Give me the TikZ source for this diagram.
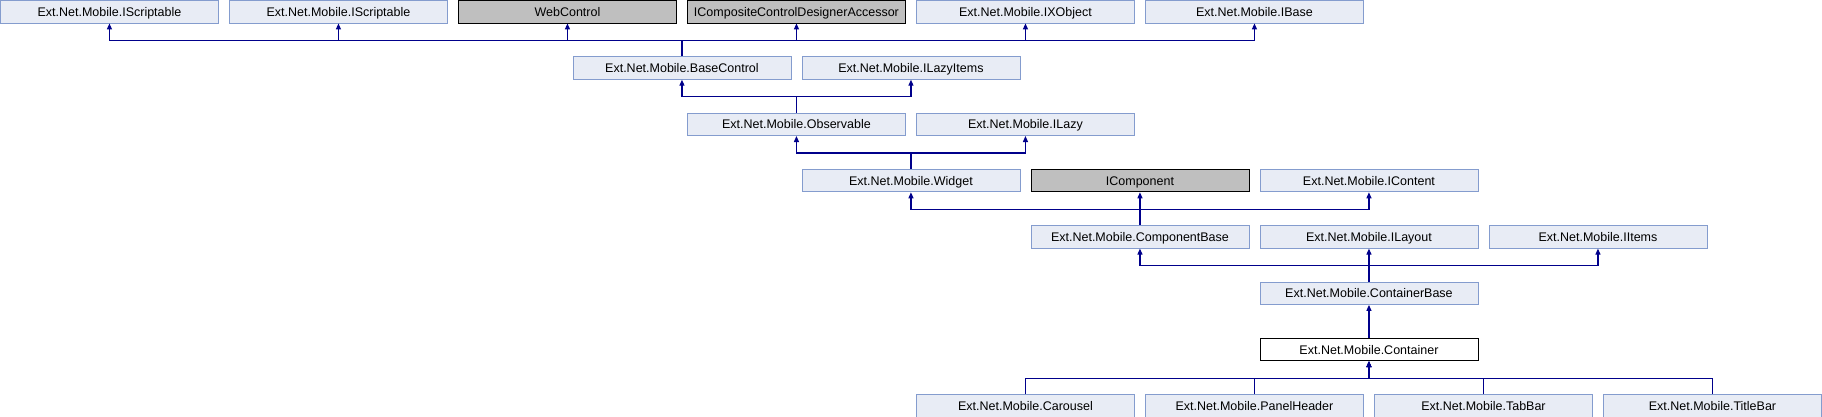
\documentclass[tikz,border=0pt]{standalone}
\usepackage{fontspec}
\setmainfont{Liberation Sans}
\usetikzlibrary{arrows.meta}
\definecolor{boxfill}{RGB}{232,236,245}
\definecolor{boxline}{RGB}{132,156,206}
\definecolor{extfill}{RGB}{191,191,191}
\definecolor{inhline}{RGB}{0,0,139}
\begin{document}
\begin{tikzpicture}[x=114.5pt,y=-56.3pt,>={Triangle[width=5pt,length=6pt]},
	box/.style={draw,line width=0.9pt,anchor=north west,minimum width=218pt,minimum height=22.5pt,inner sep=0pt,text height=9pt,text depth=0pt,font=\fontsize{12.5}{15}\selectfont},
	cls/.style={box,draw=boxline,fill=boxfill},
	ext/.style={box,draw=black,fill=extfill},
	cur/.style={box,draw=black,fill=white},
	inh/.style={draw=inhline,line width=1.2pt}]
	\useasboundingbox (0,0) rectangle (1822pt,-416pt);
	% row 0
	\node[cls] (iscr1) at (0,0) {Ext.Net.Mobile.IScriptable};
	\node[cls] (iscr2) at (2,0) {Ext.Net.Mobile.IScriptable};
	\node[ext] (webctl) at (4,0) {WebControl};
	\node[ext] (iccda) at (6,0) {ICompositeControlDesignerAccessor};
	\node[cls] (ixobj) at (8,0) {Ext.Net.Mobile.IXObject};
	\node[cls] (ibase) at (10,0) {Ext.Net.Mobile.IBase};
	% row 1
	\node[cls] (basectl) at (5,1) {Ext.Net.Mobile.BaseControl};
	\node[cls] (ilazyitems) at (7,1) {Ext.Net.Mobile.ILazyItems};
	% row 2
	\node[cls] (observ) at (6,2) {Ext.Net.Mobile.Observable};
	\node[cls] (ilazy) at (8,2) {Ext.Net.Mobile.ILazy};
	% row 3
	\node[cls] (widget) at (7,3) {Ext.Net.Mobile.Widget};
	\node[ext] (icomp) at (9,3) {IComponent};
	\node[cls] (icontent) at (11,3) {Ext.Net.Mobile.IContent};
	% row 4
	\node[cls] (compbase) at (9,4) {Ext.Net.Mobile.ComponentBase};
	\node[cls] (ilayout) at (11,4) {Ext.Net.Mobile.ILayout};
	\node[cls] (iitems) at (13,4) {Ext.Net.Mobile.IItems};
	% row 5, 6
	\node[cls] (contbase) at (11,5) {Ext.Net.Mobile.ContainerBase};
	\node[cur] (container) at (11,6) {Ext.Net.Mobile.Container};
	% row 7
	\node[cls] (carousel) at (8,7) {Ext.Net.Mobile.Carousel};
	\node[cls] (panelhdr) at (10,7) {Ext.Net.Mobile.PanelHeader};
	\node[cls] (tabbar) at (12,7) {Ext.Net.Mobile.TabBar};
	\node[cls] (titlebar) at (14,7) {Ext.Net.Mobile.TitleBar};

	\draw[inh] (basectl.north) -- ++(0,16pt) coordinate (bus1);
	\foreach \p in {iscr1,iscr2,webctl,iccda,ixobj,ibase}
		\draw[inh,->] (bus1) -| (\p.south);
	\draw[inh] (observ.north) -- ++(0,16pt) coordinate (bus2);
	\foreach \p in {basectl,ilazyitems}
		\draw[inh,->] (bus2) -| (\p.south);
	\draw[inh] (widget.north) -- ++(0,16pt) coordinate (bus3);
	\foreach \p in {observ,ilazy}
		\draw[inh,->] (bus3) -| (\p.south);
	\draw[inh] (compbase.north) -- ++(0,16pt) coordinate (bus4);
	\foreach \p in {widget,icomp,icontent}
		\draw[inh,->] (bus4) -| (\p.south);
	\draw[inh] (contbase.north) -- ++(0,16pt) coordinate (bus5);
	\foreach \p in {compbase,ilayout,iitems}
		\draw[inh,->] (bus5) -| (\p.south);
	\draw[inh,->] (container.north) -- (contbase.south);
	\foreach \c in {carousel,panelhdr,tabbar,titlebar}
		\draw[inh,->] (\c.north) |- ++(0,16pt) -| (container.south);
\end{tikzpicture}
\end{document}
